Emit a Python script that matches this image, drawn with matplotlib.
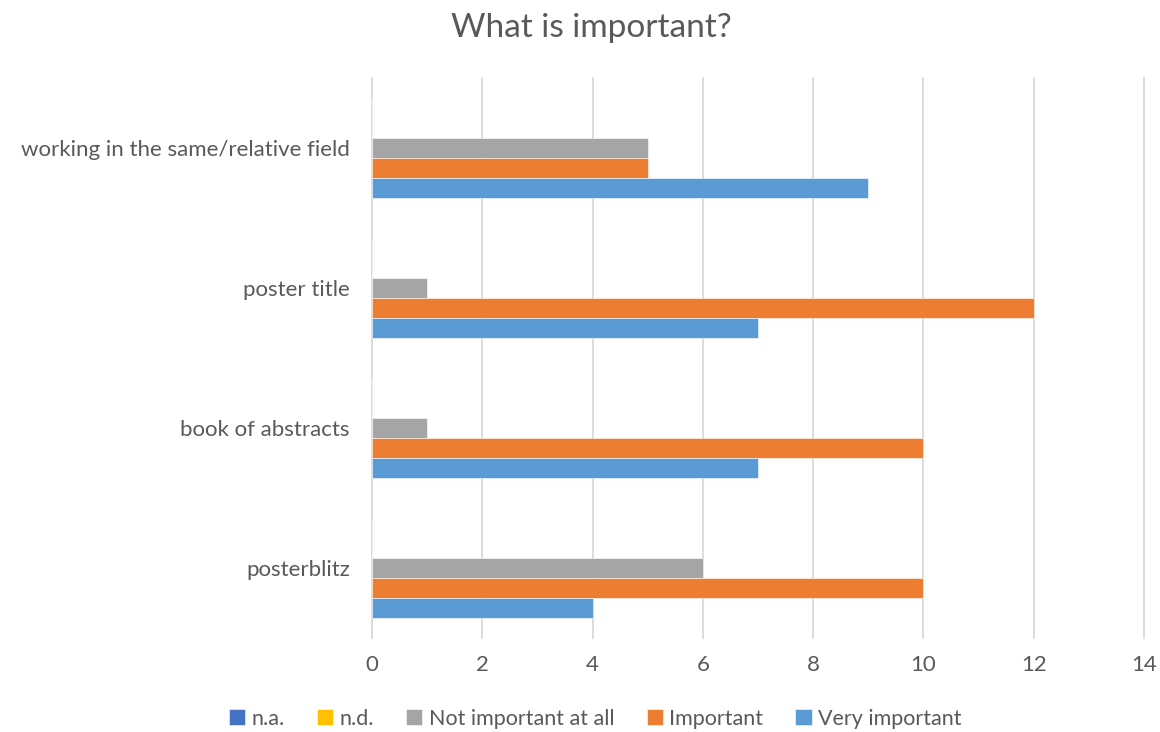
import numpy as np
import matplotlib.pyplot as plt

plt.rcParams['font.family'] = ['Lato', 'DejaVu Sans']

categories = ['posterblitz', 'book of abstracts', 'poster title',
              'working in the same/relative field']
series_names = ['n.a.', 'n.d.', 'Not important at all', 'Important', 'Very important']
na = [0, 0, 0, 0]
nd = [0, 0, 0, 0]
not_important = [6, 1, 1, 5]
important = [10, 10, 12, 5]
very_important = [4, 7, 7, 9]
colors = ['#4472C4', '#FFC000', '#A5A5A5', '#ED7D31', '#5B9BD5']

text_col = '#595959'
fig = plt.figure(figsize=(11.6, 7.32), dpi=100)
ax = fig.add_axes([0.3207, 0.1284, 0.6655, 0.765])

y = np.arange(len(categories))
h = 0.714 / 5
offsets = [2, 1, 0, -1, -2]
for vals, name, c, off in zip([na, nd, not_important, important, very_important],
                              series_names, colors, offsets):
    ax.barh(y + off * h, vals, height=h, color=c, label=name,
            edgecolor='white', linewidth=0.4)

ax.set_xlim(0, 14)
ax.set_ylim(-0.5, 3.5)
ax.set_xticks(range(0, 15, 2))
ax.set_yticks(y)
ax.set_yticklabels(categories)
ax.grid(axis='x', color='#D9D9D9', linewidth=1.3)
for gl in ax.get_xgridlines():
    gl.set_clip_on(False)
ax.set_axisbelow(True)
for s in ax.spines.values():
    s.set_visible(False)
ax.tick_params(length=0, labelsize=16, labelcolor=text_col)
ax.tick_params(axis='x', pad=12)
ax.tick_params(axis='y', pad=16)

fig.text(0.51, 0.962, 'What is important?', ha='center', va='center',
         fontsize=24, color=text_col)

leg = fig.legend(loc='center', bbox_to_anchor=(0.513, 0.018), ncol=5, frameon=False,
                 fontsize=15.5, handlelength=0.75, handleheight=0.75,
                 handletextpad=0.3, columnspacing=1.5)
for t in leg.get_texts():
    t.set_color(text_col)

fig.savefig('out.png', dpi=100)
